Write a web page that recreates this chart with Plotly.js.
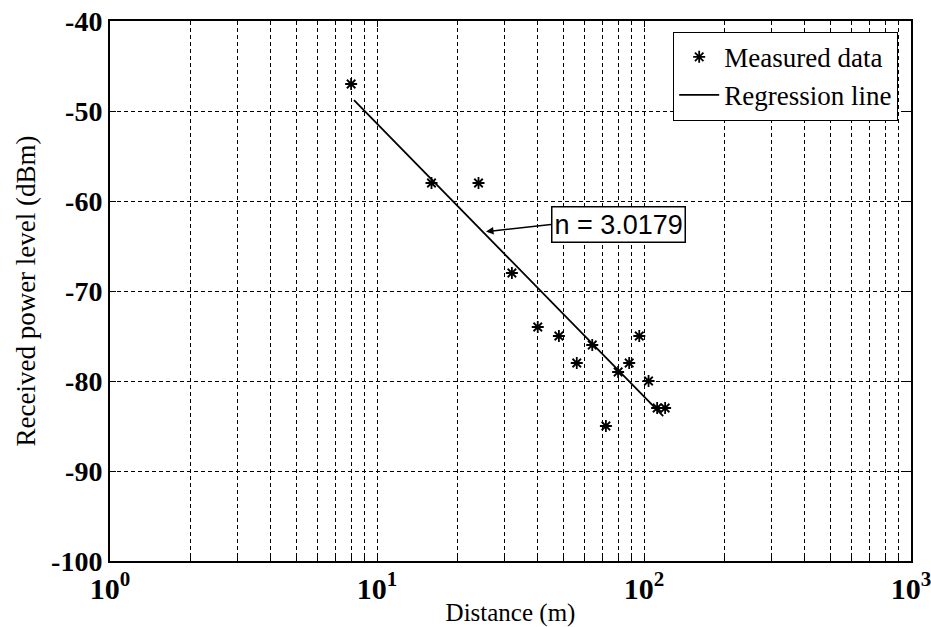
<!DOCTYPE html>
<html>
<head>
<meta charset="utf-8">
<script src="https://cdn.plot.ly/plotly-3.0.1.min.js"></script>
<style>html,body{margin:0;padding:0;background:#fff;}#chart{width:931px;height:627px;}</style>
</head>
<body>
<div id="chart"></div>
<script>
// Measured data (distance in m, received power in dBm)
const distance = [8, 16, 24, 32, 40, 48, 56, 64, 72, 80, 88, 96, 104, 112, 120];
const power = [-47, -58, -58, -68, -74, -75, -78, -76, -85, -79, -78, -75, -80, -83, -83];
// Regression line endpoints
const regDistance = [8.2, 118];
const regPower = [-48.8, -83.9];
// Axis tick labels
const xTickVals = [1, 10, 100, 1000];
const xTickText = ['10<sup>0</sup>', '10<sup>1</sup>', '10<sup>2</sup>', '10<sup>3</sup>'];
const yTickVals = [-100, -90, -80, -70, -60, -50, -40];
const yTickText = ['-100', '-90', '-80', '-70', '-60', '-50', '-40'];
// Annotation
const nLabel = 'n = 3.0179';
const arrowTip = {distance: 25.6, power: -63.4};

const serif = 'Liberation Serif, Times New Roman, serif';
const traces = [
  {x: distance, y: power, mode: 'markers', type: 'scatter', name: 'Measured data',
   marker: {symbol: 'asterisk-open', size: 10, color: '#000', line: {color: '#000', width: 1.8}}},
  {x: regDistance, y: regPower, mode: 'lines', type: 'scatter', name: 'Regression line',
   line: {color: '#000', width: 1.8}}
];
const axCommon = {showline: true, linecolor: '#000', linewidth: 2, mirror: 'allticks',
  ticks: 'inside', ticklen: 6, tickcolor: '#000', zeroline: false,
  showgrid: true, gridcolor: '#000', gridwidth: 1, griddash: '4px,3px'};
const layout = {
  width: 931, height: 627,
  margin: {l: 110, r: 20, t: 21, b: 66},
  paper_bgcolor: '#fff', plot_bgcolor: '#fff',
  font: {family: serif, color: '#000', size: 26},
  showlegend: true,
  legend: {x: 0.984, y: 0.98, xanchor: 'right', yanchor: 'top', bgcolor: '#fff',
    bordercolor: '#000', borderwidth: 1, font: {family: serif, size: 27}, tracegroupgap: 0,
    itemwidth: 40},
  xaxis: Object.assign({}, axCommon, {
    type: 'log', range: [0, 3], tickvals: xTickVals, ticktext: xTickText,
    tickfont: {family: serif, size: 30, weight: 'bold'}, ticklabeloverflow: 'allow',
    minor: {dtick: 'D1', showgrid: true, gridcolor: '#000', gridwidth: 1, griddash: '4px,3px',
      ticks: 'inside', ticklen: 4, tickcolor: '#000'},
    title: {text: 'Distance (m)', font: {family: serif, size: 25}, standoff: 0}
  }),
  yaxis: Object.assign({}, axCommon, {
    range: [-100, -40], tickvals: yTickVals, ticktext: yTickText,
    tickfont: {family: serif, size: 28, weight: 'bold'}, ticklabeloverflow: 'allow',
    title: {text: 'Received power level (dBm)', font: {family: serif, size: 27}, standoff: 8}
  }),
  annotations: [{
    x: Math.log10(arrowTip.distance), y: arrowTip.power, xref: 'x', yref: 'y',
    ax: 65, ay: -7,
    text: nLabel, showarrow: true, arrowhead: 2, arrowsize: 1, arrowwidth: 1.5,
    arrowcolor: '#000', font: {family: 'Liberation Sans, Arial, sans-serif', size: 27, color: '#000'},
    bgcolor: '#fff', bordercolor: '#000', borderwidth: 1.5, borderpad: 2,
    xanchor: 'left', yanchor: 'middle'
  }]
};
Plotly.newPlot('chart', traces, layout, {displayModeBar: false, staticPlot: true});
</script>
</body>
</html>
